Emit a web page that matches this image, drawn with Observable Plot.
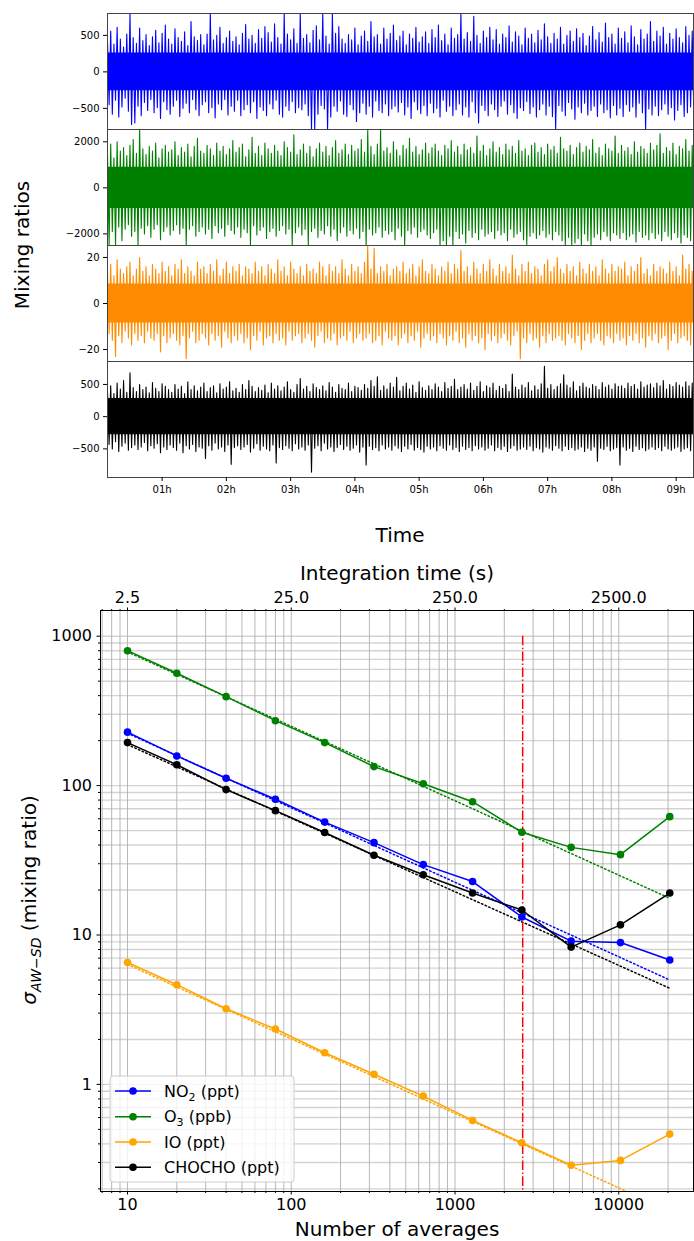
<!DOCTYPE html>
<html><head><meta charset="utf-8">
<script src="https://cdn.jsdelivr.net/npm/d3@7"></script>
<script src="https://cdn.jsdelivr.net/npm/@observablehq/plot@0.6"></script>
<style>
body{margin:0;background:#fff;font-family:"DejaVu Sans",sans-serif;}
#root{position:relative;width:694px;height:1241px;overflow:hidden;background:#fff;}
.title{position:absolute;font-size:20px;color:#000;white-space:nowrap;transform:translate(-50%,-50%);line-height:1;}
.rot{transform:translate(-50%,-50%) rotate(-90deg);}
</style></head><body><div id="root"></div>
<script>
// ---------- Top panels: time series envelope, read per 0.05 h bin ----------
const timeStart = 0.15, timeStep = 0.05, timeDomain = [0.15, 9.27];
const timeTicks = [1,2,3,4,5,6,7,8,9];

const blueHi = [
420,560,380,610,450,340,520,800,470,390,
600,430,510,360,480,570,400,530,640,450,
380,590,470,420,550,360,690,480,430,510,
370,520,800,440,500,610,390,470,560,420,
480,370,530,650,450,500,390,580,460,620,
540,410,660,470,380,800,520,440,590,390,
800,460,510,400,570,630,440,800,490,380,
800,530,620,450,390,510,440,600,370,490,
560,420,690,480,510,380,600,450,530,640,
430,490,560,370,520,460,610,410,480,550,
390,580,470,640,430,520,370,600,460,510,
800,450,540,420,760,500,390,560,470,610,
440,580,380,520,470,630,410,550,490,370,
600,460,520,400,570,440,660,480,390,530,
450,610,380,500,560,420,590,470,530,360,
490,620,440,540,410,670,470,520,380,600,
460,550,400,630,480,370,580,450,520,690,
420,560,490,610,380,530,450,590,470,400,
620,500,560];
const blueLo = [
-450,-580,-390,-620,-480,-360,-540,-720,-700,-470,
-600,-420,-530,-380,-560,-490,-640,-410,-520,-580,
-470,-390,-610,-500,-430,-560,-380,-520,-600,-450,
-410,-560,-490,-630,-440,-520,-380,-590,-470,-540,
-390,-600,-520,-450,-560,-410,-640,-480,-530,-600,
-440,-510,-390,-580,-620,-470,-530,-410,-560,-490,
-520,-440,-600,-790,-790,-580,-460,-510,-790,-620,
-470,-540,-400,-580,-610,-450,-520,-680,-560,-430,
-580,-470,-620,-400,-530,-560,-440,-600,-510,-470,
-550,-420,-590,-480,-640,-410,-520,-570,-460,-600,
-430,-560,-500,-620,-390,-540,-470,-600,-520,-440,
-590,-480,-620,-410,-560,-700,-460,-530,-600,-440,
-520,-610,-470,-400,-580,-450,-560,-640,-490,-530,
-410,-570,-480,-620,-520,-440,-590,-470,-610,-790,
-460,-540,-600,-420,-510,-650,-480,-560,-430,-590,
-530,-470,-610,-440,-560,-520,-630,-460,-590,-500,
-610,-450,-540,-480,-620,-430,-560,-790,-510,-590,
-470,-600,-520,-440,-580,-490,-660,-530,-450,-610,
-560,-480,-590];
const blueCore = 260;

const greenHi = [
1500,1900,1300,2000,1600,1750,1400,1850,2100,1500,
2535,1700,1450,1800,1600,1950,1300,1700,1850,1550,
1650,2000,1400,1750,1550,1900,1350,1800,2150,1600,
1500,1850,1700,1400,1950,1600,1800,1450,1700,2050,
1550,1750,1900,1350,1650,2200,1500,1800,1400,1950,
1700,1500,1850,1600,1400,2000,1750,1550,2300,1450,
1650,1900,1500,1800,1350,1700,1950,1550,1800,1400,
1750,2050,1500,1650,1900,1450,1850,1600,1700,2100,
1550,2535,1800,1450,1900,2535,1600,1750,1500,2000,
1650,1400,1850,1700,2150,1550,1800,1450,1650,1950,
1500,1750,1900,1600,1400,1850,1700,2050,1550,1800,
1450,1900,1650,1750,1500,2250,1600,1850,1400,1700,
2000,1550,1750,1450,1900,1650,1800,1500,2050,1600,
1700,1400,1850,1950,1550,1750,1450,1900,1650,1800,
1500,2200,1700,1600,1850,1450,1750,1950,1550,1800,
1650,2100,1500,1750,1400,1900,1700,1600,2250,1500,
1850,1600,1750,1450,2000,1550,1800,1700,1500,1950,
1650,1850,2350,1500,1750,1600,1950,1450,1800,1700,
2100,1600,1850];
const greenLo = [
-2505,-1900,-2505,-1700,-2300,-1800,-1600,-2100,-1900,-2505,
-1750,-2000,-1650,-2150,-1800,-1600,-2250,-1900,-1700,-2050,
-1850,-1600,-2000,-1750,-2505,-1800,-1650,-2100,-1900,-1700,
-2000,-1800,-2200,-1650,-1950,-1750,-2100,-1600,-1850,-2000,
-1700,-2150,-1800,-1950,-2505,-1650,-2050,-1850,-1700,-2200,
-1900,-1750,-2100,-1850,-1650,-2000,-1800,-2505,-1950,-1700,
-2050,-1800,-2505,-1900,-1750,-2150,-1850,-2000,-1650,-2100,
-1800,-2300,-1950,-1700,-2100,-1850,-2000,-1750,-2200,-1900,
-2505,-1800,-2050,-1950,-1700,-2150,-1850,-2000,-1900,-2250,
-1750,-2100,-2505,-1850,-2000,-1700,-2150,-1900,-1800,-2050,
-2200,-1950,-1800,-2505,-2300,-2505,-2100,-2505,-1900,-2200,
-2000,-2400,-1850,-2150,-1950,-2250,-1800,-2100,-2000,-1900,
-2200,-1850,-2050,-1950,-2300,-1800,-2150,-2000,-1900,-2250,
-2505,-2100,-1950,-2200,-2050,-1850,-2150,-2000,-2250,-1900,
-2050,-2300,-2505,-2150,-2505,-2400,-2200,-2505,-2000,-2300,
-2505,-2150,-2000,-2250,-1900,-2100,-2300,-1950,-2050,-2200,
-1950,-2250,-2100,-2000,-2350,-1900,-2150,-2050,-2250,-1950,
-2200,-2000,-2300,-1900,-2100,-2250,-1950,-2150,-2400,-2050,
-2150,-2300,-2000];
const greenCore = 900;

const orangeHi = [
14,17,12,19,15,13,16,18,12,15,
20,14,16,12,17,15,13,18,14,16,
12,17,15,19,13,16,14,12,18,15,
16,13,17,14,19,12,15,18,13,16,
14,17,12,16,15,13,18,14,16,12,
17,15,13,19,14,16,12,18,15,13,
16,12,17,14,15,13,18,16,12,17,
14,16,13,19,15,12,17,14,16,13,
18,25,15,24,13,16,14,17,12,15,
16,14,18,13,15,17,12,16,19,14,
13,17,15,12,16,14,18,13,17,15,
23,14,16,12,18,15,13,17,14,19,
15,12,17,14,16,13,21,15,12,17,
14,18,13,16,15,12,17,19,14,16,
20,15,13,17,14,16,12,18,15,13,
17,14,16,12,19,15,13,17,14,16,
15,18,12,16,14,17,20,13,15,12,
17,14,16,15,13,18,14,16,12,21,
15,17,14];
const orangeLo = [
-13,-16,-23,-14,-17,-12,-15,-18,-13,-16,
-14,-17,-12,-15,-16,-13,-21,-14,-17,-15,
-13,-16,-18,-14,-24,-15,-12,-17,-16,-13,
-15,-18,-13,-16,-14,-19,-12,-15,-17,-14,
-16,-13,-17,-15,-20,-14,-16,-12,-18,-15,
-14,-17,-13,-16,-15,-18,-12,-16,-14,-13,
-17,-15,-13,-16,-19,-14,-12,-17,-15,-16,
-13,-18,-15,-14,-16,-12,-17,-15,-13,-16,
-15,-13,-17,-16,-14,-18,-12,-15,-16,-14,
-18,-15,-13,-17,-14,-16,-12,-19,-15,-13,
-16,-14,-17,-13,-15,-18,-14,-16,-12,-17,
-15,-19,-13,-16,-14,-17,-15,-20,-13,-16,
-14,-17,-15,-13,-16,-18,-14,-12,-24,-15,
-17,-13,-16,-15,-19,-14,-17,-13,-16,-15,
-14,-16,-18,-13,-15,-17,-14,-20,-16,-13,
-17,-15,-13,-16,-18,-14,-15,-17,-13,-16,
-15,-18,-14,-16,-13,-17,-15,-19,-14,-16,
-13,-17,-15,-14,-20,-16,-13,-17,-15,-14,
-16,-18,-15];
const orangeCore = 8.5;

const blackHi = [
400,480,360,520,430,560,380,680,450,390,
500,420,460,370,530,440,390,510,470,420,
380,500,430,470,360,540,420,480,400,460,
520,390,450,480,370,510,430,460,540,400,
440,380,500,420,560,470,390,450,410,490,
370,520,430,480,400,460,540,420,380,500,
590,430,470,390,510,450,420,480,400,530,
460,380,500,440,420,520,390,470,450,410,
500,440,560,470,620,410,480,430,520,460,
610,400,470,520,430,490,380,540,450,410,
480,420,510,460,390,530,440,470,580,420,
460,500,430,520,410,470,540,390,480,450,
520,410,470,440,500,390,660,460,420,490,
450,530,400,480,420,510,780,440,500,420,
470,510,650,490,450,540,400,470,520,460,
440,500,470,420,530,460,490,430,510,470,
480,440,520,470,500,430,540,460,490,510,
450,520,480,560,430,500,470,530,490,460,
540,480,520];
const blackLo = [
-430,-500,-390,-540,-460,-410,-520,-480,-440,-510,
-470,-400,-530,-450,-490,-420,-560,-470,-510,-440,
-480,-520,-410,-560,-450,-500,-430,-540,-470,-490,
-650,-450,-520,-410,-500,-470,-540,-440,-740,-480,
-450,-510,-470,-430,-550,-490,-420,-520,-460,-500,
-530,-440,-720,-480,-510,-450,-490,-530,-420,-500,
-470,-520,-440,-860,-490,-450,-530,-410,-500,-470,
-540,-480,-430,-510,-460,-520,-490,-440,-550,-470,
-750,-460,-510,-480,-530,-440,-500,-470,-520,-450,
-490,-540,-460,-500,-430,-520,-480,-510,-550,-460,
-500,-470,-530,-450,-490,-520,-440,-510,-480,-540,
-460,-510,-480,-530,-450,-500,-470,-520,-490,-440,
-530,-480,-510,-460,-540,-490,-450,-520,-500,-470,
-510,-460,-530,-480,-500,-550,-470,-490,-520,-450,
-490,-530,-460,-510,-480,-520,-500,-470,-540,-490,
-520,-470,-690,-490,-510,-460,-530,-500,-480,-750,
-470,-520,-490,-540,-460,-510,-480,-530,-500,-470,
-510,-480,-530,-460,-500,-520,-490,-470,-540,-500,
-480,-530,-500];
const blackCore = 280;

const panelColors = ["#0000ff", "#008000", "#ff8c00", "#000000"];
const panelDomains = [[-790, 800], [-2505, 2535], [-25.2, 25.2], [-944, 856]];
const panelTicks = [[-500, 0, 500], [-2000, 0, 2000], [-20, 0, 20], [-500, 0, 500]];

// ---------- Bottom chart: deviation vs number of averages ----------
const nAvg = [10,20,40,80,160,320,640,1280,2560,5120,10240,20480];
const no2Sd = [228,158,112,81,57,41.5,29.6,22.8,13.2,9.1,8.9,6.8];
const o3Sd = [800,565,394,272,194,134,103,78,48.7,38.6,34.5,62];
const ioSd = [6.55,4.65,3.21,2.35,1.63,1.17,0.835,0.574,0.407,0.288,0.31,0.465];
const chochoSd = [194,138,94,68,48.5,34.2,25.3,19.1,14.7,8.3,11.7,19.1];
const fitN = [10, 20480];
const no2Fit = [224, 5.0];
const o3Fit = [785, 17.6];
const ioFit = [6.35, 0.142];
const chochoFit = [188, 4.4];
const markerN = 2590;
const bottomTicks = [10, 100, 1000, 10000];
const topTicks = [10, 100, 1000, 10000];
const topTickLabels = ["2.5", "25.0", "250.0", "2500.0"];
const yTicks = [1, 10, 100, 1000];

const root = document.getElementById("root");
const fmtMinus = d => d < 0 ? "\u2212" + Math.abs(d) : String(d);

function zigzag(hi, lo) {
  const out = [];
  hi.forEach((h, i) => {
    const t = timeStart + timeStep * i;
    out.push({t, v: h});
    out.push({t: t + timeStep / 2, v: lo[i]});
  });
  return out;
}

const panels = [
  [blueHi, blueLo, blueCore],
  [greenHi, greenLo, greenCore],
  [orangeHi, orangeLo, orangeCore],
  [blackHi, blackLo, blackCore]
];

panels.forEach(([hi, lo, core], k) => {
  const last = k === 3;
  const top = 13 + 116 * k;
  const mt = 8, mb = last ? 30 : 8;
  const color = panelColors[k];
  const zz = zigzag(hi, lo);
  const chart = Plot.plot({
    width: 694, height: 116 + mt + mb,
    marginLeft: 107, marginRight: 1, marginTop: mt, marginBottom: mb,
    style: {fontFamily: "DejaVu Sans", fontSize: "10px", background: "transparent", overflow: "visible"},
    x: {domain: timeDomain, label: null, axis: null},
    y: {domain: panelDomains[k], label: null, axis: null},
    marks: [
      Plot.areaY([{t: timeDomain[0]}, {t: timeDomain[1]}], {x: "t", y1: -core, y2: core, fill: color, clip: true}),
      Plot.line(zz, {x: "t", y: "v", stroke: color, strokeWidth: 1.1, clip: true}),
      Plot.frame({stroke: "#444", strokeWidth: 1}),
      Plot.axisY({ticks: panelTicks[k], tickSize: 4, tickPadding: 4, tickFormat: fmtMinus, label: null}),
      last ? Plot.axisX({ticks: timeTicks, tickSize: 4, tickPadding: 4, tickFormat: d => "0" + d + "h", label: null}) : null
    ].filter(Boolean)
  });
  chart.style.position = "absolute";
  chart.style.left = "0px";
  chart.style.top = (top - mt) + "px";
  root.appendChild(chart);
});

// ---------- bottom chart ----------
const minorMult = [2,3,4,5,6,7,8,9];
const gridX = [7,8,9];
[10,100,1000].forEach(d => { gridX.push(d); minorMult.forEach(m => gridX.push(d*m)); });
gridX.push(10000, 20000);
const gridY = [0.2,0.3,0.4,0.5,0.6,0.7,0.8,0.9];
[1,10,100].forEach(d => { gridY.push(d); minorMult.forEach(m => gridY.push(d*m)); });
gridY.push(1000);
const minorX = gridX.filter(d => !bottomTicks.includes(d));
const minorY = gridY.filter(d => !yTicks.includes(d));
const topLabel = new Map(topTicks.map((d, i) => [d, topTickLabels[i]]));

const series = [
  {values: no2Sd, fit: no2Fit, color: "#0000ff"},
  {values: o3Sd, fit: o3Fit, color: "#008000"},
  {values: ioSd, fit: ioFit, color: "#ffa500"},
  {values: chochoSd, fit: chochoFit, color: "#000000"}
];
const yDom = [0.192, 1486];

const marks = [
  Plot.ruleY(gridY, {stroke: "#d3d3d3", strokeWidth: 1.4}),
  Plot.ruleX(gridX, {stroke: "#b0b0b0", strokeWidth: 0.9})
];
series.forEach(s => {
  const rows = fitN.map((n, i) => ({n, v: s.fit[i]}));
  marks.push(Plot.line(rows, {x: "n", y: "v", stroke: s.color, strokeWidth: 1.5, strokeDasharray: "1.5,2.5", clip: true}));
});
marks.push(Plot.ruleX([markerN], {y1: 1000, y2: yDom[0], stroke: "#ff0000", strokeWidth: 1.5, strokeDasharray: "9.6,2.4,1.5,2.4"}));
series.forEach(s => {
  const rows = nAvg.map((n, i) => ({n, v: s.values[i]}));
  marks.push(Plot.line(rows, {x: "n", y: "v", stroke: s.color, strokeWidth: 1.5}));
  marks.push(Plot.dot(rows, {x: "n", y: "v", fill: s.color, r: 3.8}));
});
marks.push(
  Plot.frame({stroke: "#000", strokeWidth: 1}),
  Plot.axisX({anchor: "bottom", ticks: minorX, tickSize: 2, tickFormat: () => "", label: null}),
  Plot.axisX({anchor: "bottom", ticks: bottomTicks, tickSize: 3.5, tickPadding: 4, tickFormat: d => String(d), label: null}),
  Plot.axisX({anchor: "top", ticks: minorX, tickSize: 2, tickFormat: () => "", label: null}),
  Plot.axisX({anchor: "top", ticks: topTicks, tickSize: 3.5, tickPadding: 4, tickFormat: d => topLabel.get(d), label: null}),
  Plot.axisY({ticks: minorY, tickSize: 2, tickFormat: () => "", label: null}),
  Plot.axisY({ticks: yTicks, tickSize: 3.5, tickPadding: 5, tickFormat: d => String(d), label: null})
);

const bottom = Plot.plot({
  width: 694, height: 701,
  marginTop: 70, marginBottom: 50, marginLeft: 100, marginRight: 1,
  style: {fontFamily: "DejaVu Sans", fontSize: "16px", background: "transparent", overflow: "visible"},
  x: {type: "log", domain: [6.84, 28600], label: null, axis: null},
  y: {type: "log", domain: yDom, label: null, axis: null},
  marks
});
bottom.style.position = "absolute";
bottom.style.left = "0px";
bottom.style.top = "540px";
root.appendChild(bottom);

// ---------- titles ----------
function title(html, x, y, rot) {
  const d = document.createElement("div");
  d.className = "title" + (rot ? " rot" : "");
  d.style.left = x + "px";
  d.style.top = y + "px";
  d.innerHTML = html;
  root.appendChild(d);
}
title("Mixing ratios", 22, 245, true);
title("Time", 400, 535, false);
title("Integration time (s)", 397, 573, false);
title("Number of averages", 397, 1229, false);
title('<i>σ</i><sub style="font-size:14px;font-style:italic;">AW\u2212SD</sub> (mixing ratio)', 31, 900, true);

// ---------- legend ----------
const legendItems = [
  {html: 'NO<tspan dy="4" font-size="11">2</tspan><tspan dy="-4"> (ppt)</tspan>', color: "#0000ff"},
  {html: 'O<tspan dy="4" font-size="11">3</tspan><tspan dy="-4"> (ppb)</tspan>', color: "#008000"},
  {html: 'IO (ppt)', color: "#ffa500"},
  {html: 'CHOCHO (ppt)', color: "#000000"}
];
const rowsY = [15, 40.7, 66, 91.3];
let svg = '<svg xmlns="http://www.w3.org/2000/svg" width="186" height="108" style="position:absolute;left:109px;top:1075px;font-family:DejaVu Sans;font-size:16px;">';
svg += '<rect x="1" y="1" width="184" height="106" rx="3" fill="#fff" fill-opacity="0.8" stroke="#cccccc"/>';
legendItems.forEach((it, i) => {
  const y = rowsY[i] + 1;
  svg += `<line x1="6" x2="42" y1="${y}" y2="${y}" stroke="${it.color}" stroke-width="1.5"/>`;
  svg += `<circle cx="24" cy="${y}" r="3.8" fill="${it.color}"/>`;
  svg += `<text x="55" y="${y + 5.5}" fill="#000">${it.html}</text>`;
});
svg += '</svg>';
root.insertAdjacentHTML("beforeend", svg);
</script>
</body></html>
